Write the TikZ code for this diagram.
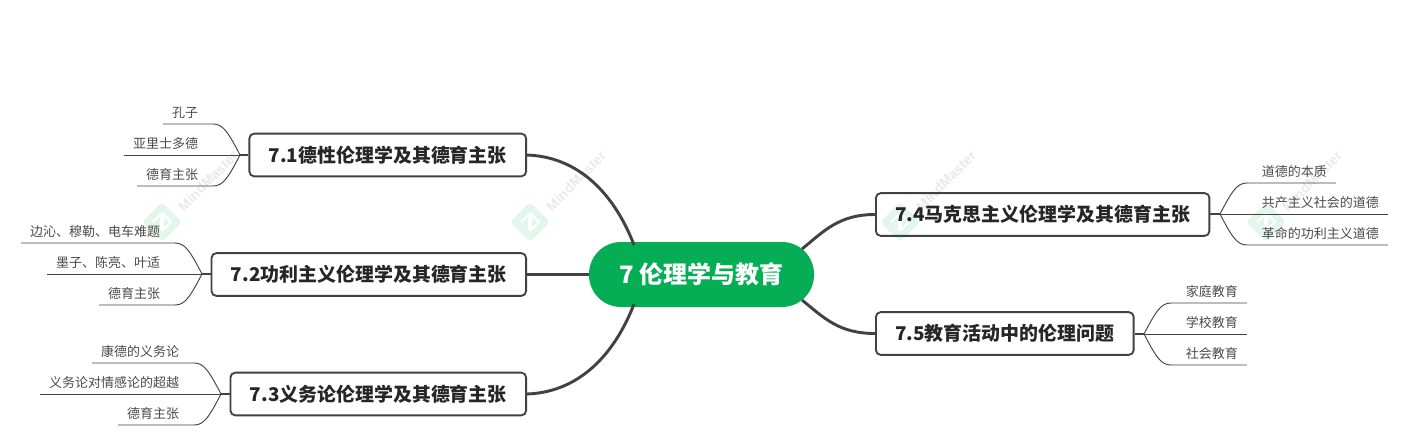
\documentclass[tikz,border=0pt]{standalone}
\usepackage{fontspec}
\usepackage{xcolor}
\setmainfont{Noto Sans CJK SC}
\newfontfamily\wmfont{Liberation Sans}
\usetikzlibrary{calc}
\definecolor{rootgreen}{HTML}{05AD54}
\definecolor{linegray}{HTML}{424242}
\definecolor{leafgray}{HTML}{4A4A4A}
\definecolor{wmgreen}{HTML}{E2F6EB}
\definecolor{wmgray}{HTML}{E9E9E9}

\begin{document}
\begin{tikzpicture}[
    x=0.75pt, y=-0.75pt,
    rootnode/.style={rounded corners=24pt, fill=rootgreen, text=white, minimum width=168.75pt, minimum height=48.75pt, inner sep=0pt, font=\fontsize{18}{20}\selectfont\bfseries},
    topicnode/.style={draw=linegray, line width=1.4pt, rounded corners=3.5pt, minimum height=32pt, inner xsep=14.5pt, inner ysep=0pt, text=black!85, font=\fontsize{14.2}{16}\selectfont\bfseries},
    leafnode/.style={inner xsep=6.5pt, inner ysep=3.75pt, text=leafgray, font=\fontsize{9.75}{11}\selectfont},
    trunk/.style={draw=linegray, line width=2.2pt},
    stem/.style={draw=linegray, line width=1pt},
    twig/.style={draw=linegray, line width=0.7pt},
    wmtext/.style={text=wmgray, rotate=45, inner sep=0pt, font=\wmfont\fontsize{10.5}{12}\selectfont\bfseries}
]
\useasboundingbox (0,0) rectangle (1408,446);

% watermark
\foreach \x in {162,530,900,1266} {
    \fill[wmgreen, rounded corners=3pt] (\x,202) -- (\x+20,222) -- (\x,242) -- (\x-20,222) -- cycle;
    \draw[white, line width=1.6pt, line join=round] (\x-9,222) -- (\x-1,214) -- (\x-1,230) -- (\x+1,230) -- (\x+1,214) -- (\x+9,222) -- (\x+1,230);
    \node[wmtext] (wm\x) at (\x+46,181) {MindMaster};
}

% root and main topics
\node[rootnode] (root) at (701.5,274.5) {7 伦理学与教育};
\node[topicnode, anchor=east] (t1) at (527,155) {7.1德性伦理学及其德育主张};
\node[topicnode, anchor=east] (t2) at (527,274.5) {7.2功利主义伦理学及其德育主张};
\node[topicnode, anchor=east] (t3) at (527,394) {7.3义务论伦理学及其德育主张};
\node[topicnode, anchor=west] (t4) at (875,214.5) {7.4马克思主义伦理学及其德育主张};
\node[topicnode, anchor=west] (t5) at (875,333.5) {7.5教育活动中的伦理问题};

% forks
\coordinate (f1) at (240,155);
\coordinate (f2) at (202,274);
\coordinate (f3) at (221,394);
\coordinate (f4) at (1220,214);
\coordinate (f5) at (1144,334);

% leaves
\node[leafnode, anchor=south east] (a1) at (207,124) {孔子};
\node[leafnode, anchor=south east] (a2) at (207,155) {亚里士多德};
\node[leafnode, anchor=south east] (a3) at (207,186) {德育主张};
\node[leafnode, anchor=south east] (b1) at (169,243) {边沁、穆勒、电车难题};
\node[leafnode, anchor=south east] (b2) at (169,274) {墨子、陈亮、叶适};
\node[leafnode, anchor=south east] (b3) at (169,305) {德育主张};
\node[leafnode, anchor=south east] (c1) at (188,363) {康德的义务论};
\node[leafnode, anchor=south east] (c2) at (188,394) {义务论对情感论的超越};
\node[leafnode, anchor=south east] (c3) at (188,425) {德育主张};
\node[leafnode, anchor=south west] (d1) at (1253,183) {道德的本质};
\node[leafnode, anchor=south west] (d2) at (1253,214) {共产主义社会的道德};
\node[leafnode, anchor=south west] (d3) at (1253,245) {革命的功利主义道德};
\node[leafnode, anchor=south west] (e1) at (1177,303) {家庭教育};
\node[leafnode, anchor=south west] (e2) at (1177,334) {学校教育};
\node[leafnode, anchor=south west] (e3) at (1177,365) {社会教育};

% trunk lines
\coordinate (r1) at (634,245);
\coordinate (r3) at (634,304);
\coordinate (r4) at (802,249);
\coordinate (r5) at (802,300);
\draw[trunk] (t1.east) .. controls +(58,2) and +(-16,-42) .. (r1);
\draw[trunk] (t2.east) -- (root.west);
\draw[trunk] (t3.east) .. controls +(58,-2) and +(-16,42) .. (r3);
\draw[trunk] (t4.west) .. controls +(-36,0) and +(22,-18) .. (r4);
\draw[trunk] (t5.west) .. controls +(-36,0) and +(22,18) .. (r5);

% stems
\foreach \f/\t/\a in {f1/t1/west,f2/t2/west,f3/t3/west,f4/t4/east,f5/t5/east}
    \draw[stem] (\f) -- (\f -| \t.\a);

% twigs
\foreach \f/\l/\d/\s in {f1/a1/-1/-1,f1/a3/-1/1,f2/b1/-1/-1,f2/b3/-1/1,f3/c1/-1/-1,f3/c3/-1/1}
    \draw[twig] (\f) .. controls +(\d*12,\s*23) and +(-\d*10,0) .. ($(\f |- \l.south)+(\d*27,0)$) -- (\l.south west);
\foreach \f/\l/\d/\s in {f4/d1/1/-1,f4/d3/1/1,f5/e1/1/-1,f5/e3/1/1}
    \draw[twig] (\f) .. controls +(\d*12,\s*23) and +(-\d*10,0) .. ($(\f |- \l.south)+(\d*27,0)$) -- (\l.south east);
\foreach \f/\l in {f1/a2,f2/b2,f3/c2}
    \draw[twig] (\f) -- (\l.south west);
\foreach \f/\l in {f4/d2,f5/e2}
    \draw[twig] (\f) -- (\l.south east);
\end{tikzpicture}
\end{document}
